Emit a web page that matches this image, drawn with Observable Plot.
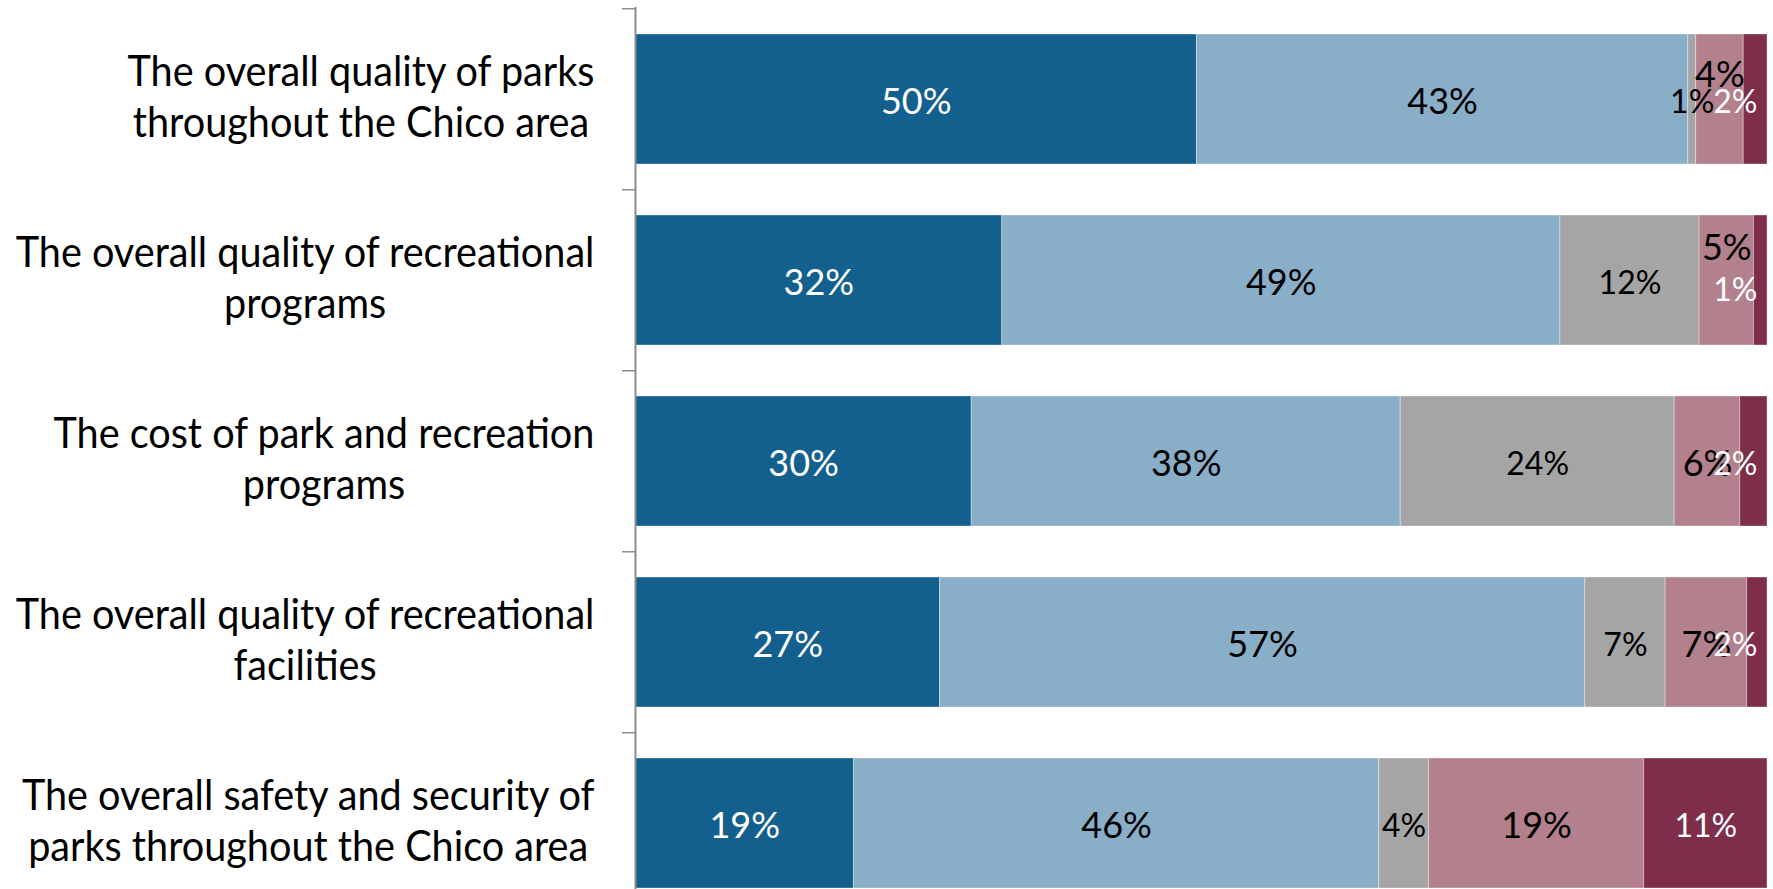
<!DOCTYPE html>
<html><head><meta charset="utf-8">
<script src="https://cdn.jsdelivr.net/npm/d3@7"></script>
<script src="https://cdn.jsdelivr.net/npm/@observablehq/plot@0.6"></script>
<style>html,body{margin:0;padding:0;background:#fff}</style>
</head><body><div id="chart"></div>
<script>
// ---- data ----
const questions = [
  "The overall quality of parks\nthroughout the Chico area",
  "The overall quality of recreational\nprograms",
  "The cost of park and recreation\nprograms",
  "The overall quality of recreational\nfacilities",
  "The overall safety and security of\nparks throughout the Chico area"
];
const levels = ["Very satisfied", "Satisfied", "Neutral", "Dissatisfied", "Very dissatisfied"];
const verySatisfied    = [49.6, 32.4, 29.7, 26.9, 19.3];
const satisfied        = [43.4, 49.3, 37.9, 57.0, 46.4];
const neutral          = [0.7, 12.3, 24.2, 7.1, 4.4];
const dissatisfied     = [4.2, 4.8, 5.8, 7.2, 19.0];
const veryDissatisfied = [2.1, 1.2, 2.4, 1.8, 10.9];
const series = [verySatisfied, satisfied, neutral, dissatisfied, veryDissatisfied];
const colors = ["#13608f", "#89aec8", "#a5a5a5", "#b3808e", "#7e2e4b"];

const data = [];
questions.forEach((q, i) => levels.forEach((lv, j) => data.push({question: q, level: lv, li: j, qi: i, value: series[j][i]})));
const fmt = d => Math.round(d.value) + "%";

// ---- layout ----
const W = 1773, H = 889;
const yTop = 7, step = 181.5;
const yRange = [yTop, yTop + step * questions.length];
const labelRight = 594, squeeze = 0.943;
// label nudges (Excel overlap avoidance), keyed "row|level"
const nudge = new Map([["0|3", -27], ["1|3", -35], ["1|4", 7]]);
const key = d => d.qi + "|" + d.li;
const DY = 3;

const stacked = (test, opts) => Plot.text(data, Plot.stackX({
  x: "value", y: "question", z: "level",
  text: d => test(d) ? fmt(d) : null,
  ...opts
}));

const marks = [
  Plot.barX(data, Plot.stackX({x: "value", y: "question", z: "level", fill: "level",
    stroke: "white", strokeOpacity: 0.35, strokeWidth: 1})),
  stacked(d => d.li === 0, {fill: "white", fontSize: 36, dy: DY}),
  stacked(d => (d.li === 1 || d.li === 3) && !nudge.has(key(d)), {fill: "black", fontSize: 36, dy: DY}),
  stacked(d => key(d) === "0|3", {fill: "black", fontSize: 36, dy: DY + nudge.get("0|3")}),
  stacked(d => key(d) === "1|3", {fill: "black", fontSize: 36, dy: DY + nudge.get("1|3")}),
  stacked(d => d.li === 2, {fill: "black", fontSize: 32, dy: DY}),
  stacked(d => d.li === 4 && d.value >= 5, {fill: "white", fontSize: 32, dy: DY}),
  Plot.text(data.filter(d => d.li === 4 && d.value < 5 && !nudge.has(key(d))), {
    y: "question", text: fmt, frameAnchor: "right", textAnchor: "end", dx: -10, dy: DY,
    fill: "white", fontSize: 32}),
  Plot.text(data.filter(d => d.li === 4 && d.value < 5 && nudge.has(key(d))), {
    y: "question", text: fmt, frameAnchor: "right", textAnchor: "end", dx: -10, dy: DY + 7,
    fill: "white", fontSize: 32}),
  Plot.axisY({tickSize: 0, tickPadding: 41, fontSize: 42, lineHeight: 1.21, label: null, fill: "black", dy: -4}),
  Plot.axisY({tickSize: 13, tickFormat: () => null, dy: -step / 2, stroke: "#8c8c8c", strokeWidth: 1.5, label: null}),
  Plot.ruleX([0], {stroke: "#8c8c8c", strokeWidth: 2})
];

const svg = Plot.plot({
  width: W, height: H,
  marginLeft: 635, marginRight: 6, marginTop: yTop, marginBottom: 0,
  style: {fontFamily: "Lato, 'Open Sans', sans-serif", background: "#fff", overflow: "hidden"},
  x: {domain: [0, 100], axis: null},
  y: {domain: questions, range: yRange, paddingInner: 0.284, paddingOuter: 0.142, axis: null},
  color: {domain: levels, range: colors},
  marks
});
document.getElementById("chart").appendChild(svg);

// center the wrapped lines of each category label within its right-aligned block,
// and narrow the label glyphs slightly to match the original's condensed face
const labelGroup = svg.querySelector('g[aria-label="y-axis tick label"]');
if (labelGroup) {
  labelGroup.querySelectorAll("text").forEach(t => {
    const spans = [...t.querySelectorAll("tspan")];
    if (spans.length < 2) return;
    const m = Math.max(...spans.map(s => s.getComputedTextLength()));
    t.setAttribute("text-anchor", "middle");
    spans.forEach(s => s.setAttribute("x", -m / 2));
  });
  const prev = labelGroup.getAttribute("transform") || "";
  labelGroup.setAttribute("transform",
    `translate(${labelRight},0) scale(${squeeze},1) translate(${-labelRight},0) ${prev}`);
}
</script>
</body></html>
